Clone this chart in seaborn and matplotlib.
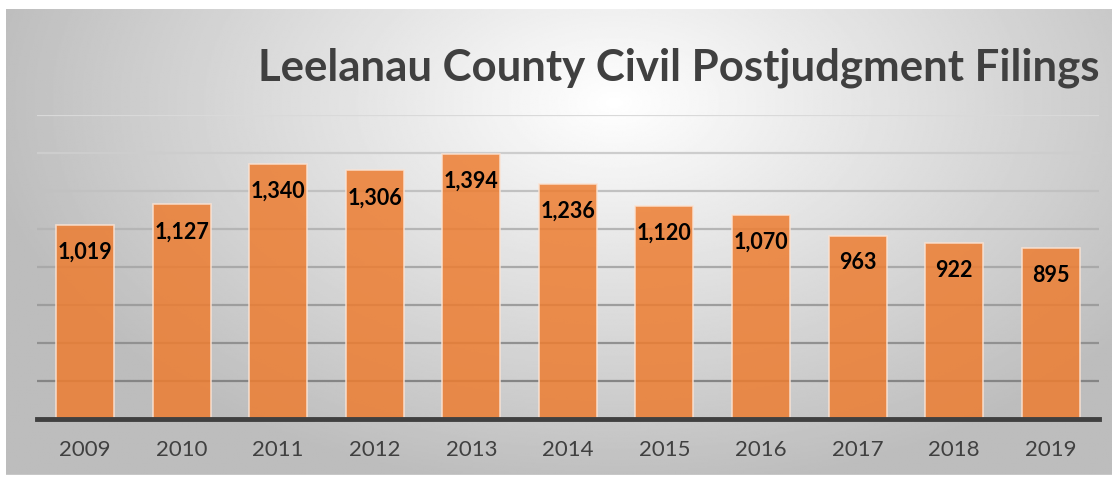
import numpy as np
import pandas as pd
import matplotlib
matplotlib.use("Agg")
import matplotlib.pyplot as plt
import seaborn as sns

# Daten
years = ["2009", "2010", "2011", "2012", "2013", "2014",
         "2015", "2016", "2017", "2018", "2019"]
filings = [1019, 1127, 1340, 1306, 1394, 1236, 1120, 1070, 963, 922, 895]
grid_levels = [200, 400, 600, 800, 1000, 1200, 1400, 1600]
title = "Leelanau County Civil Postjudgment Filings"

sns.set_theme(style="white")
plt.rcParams["font.family"] = ["Lato", "DejaVu Sans"]

W, H = 1112, 481
fig = plt.figure(figsize=(W / 100, H / 100), dpi=100, facecolor="white")

# Hintergrund mit radialem Verlauf
bg = fig.add_axes([6 / W, 5 / H, (W - 6) / W, 466 / H])
yy, xx = np.mgrid[0:1:300j, 0:1:700j]
dist = np.sqrt(((xx - 0.55) / 0.75) ** 2 + ((yy - 0.2) / 1.1) ** 2)
shade = np.clip(1.0 - 0.34 * dist, 0.74, 1.0)
bg.imshow(shade, cmap="gray", vmin=0, vmax=1, aspect="auto",
          extent=[0, 1, 1, 0], interpolation="bilinear")
bg.axhline(1, color="#c8c8c8", lw=1.5)
bg.set_axis_off()

# Hauptachse
left, right = 36.7, 1099
base, top = 419.5, 115.5
ax = fig.add_axes([left / W, (H - base) / H, (right - left) / W, (base - top) / H])
ax.set_facecolor("none")

df = pd.DataFrame({"Jahr": years, "Anzahl": filings})

for i, lvl in enumerate(grid_levels):
    g = 0.52 + 0.33 * i / (len(grid_levels) - 1)
    ax.axhline(lvl, color=(g, g, g), lw=1.6, zorder=0)

sns.barplot(data=df, x="Jahr", y="Anzahl", color="#ED7D31", alpha=0.85,
            width=0.6, edgecolor="#fbe3d3", linewidth=1.2, saturation=1,
            ax=ax, zorder=2)

for i, v in enumerate(filings):
    ax.annotate(f"{v:,}", xy=(i, v), xytext=(0, -19), textcoords="offset points",
                ha="center", va="center", fontsize=15.5, fontweight="bold",
                color="black", zorder=3)

ax.set_ylim(0, 1600)
ax.set_xlim(-0.5, len(years) - 0.5)
ax.set_yticks([])
ax.set_xlabel("")
ax.set_ylabel("")
for s in ["top", "left", "right"]:
    ax.spines[s].set_visible(False)
ax.spines["bottom"].set_color("#404040")
ax.spines["bottom"].set_linewidth(3.5)
ax.spines["bottom"].set_zorder(4)
ax.tick_params(axis="x", length=0, pad=15, labelsize=16, labelcolor="#404040")

fig.text(1099 / W, (H - 80) / H, title, ha="right", va="baseline",
         fontsize=31.5, fontweight="bold", color="#404040")

fig.savefig("out.png", dpi=100)
